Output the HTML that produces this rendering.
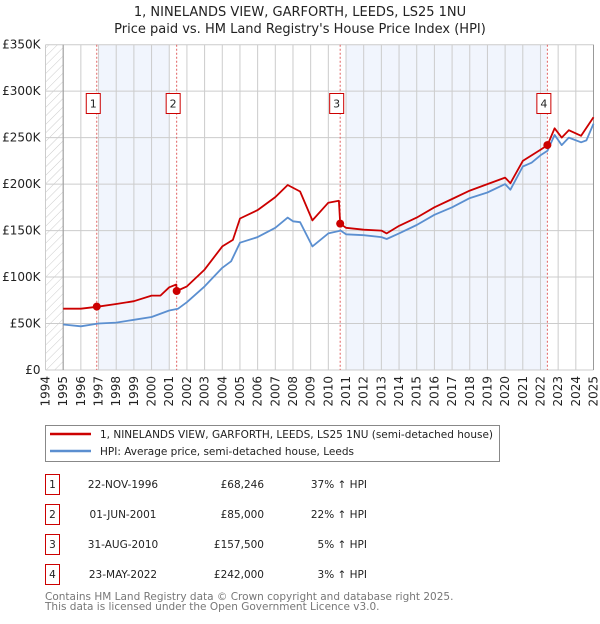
<!DOCTYPE html>
<html><head><meta charset="utf-8"><style>
body{margin:0;background:#fff;font-family:"DejaVu Sans","Liberation Sans",sans-serif;}
svg text{font-family:"DejaVu Sans","Liberation Sans",sans-serif;}
</style></head><body>
<svg id="c" width="600" height="620" xmlns="http://www.w3.org/2000/svg">
<defs><pattern id="hatch" width="6" height="6" patternUnits="userSpaceOnUse" patternTransform="rotate(45)"><line x1="0" y1="0" x2="0" y2="6" stroke="#ccc" stroke-width="1"/></pattern></defs>
<text x="300" y="16" text-anchor="middle" font-size="13" fill="#222">1, NINELANDS VIEW, GARFORTH, LEEDS, LS25 1NU</text>
<text x="300" y="33" text-anchor="middle" font-size="13" fill="#222">Price paid vs. HM Land Registry's House Price Index (HPI)</text>
<g id="plot"></g>
<g>
<rect x="45.5" y="425.5" width="454" height="36" fill="#fff" stroke="#888"/>
<line x1="50" y1="434" x2="91" y2="434" stroke="#cc0000" stroke-width="2.5"/>
<text x="100" y="438" font-size="10.5" fill="#222">1, NINELANDS VIEW, GARFORTH, LEEDS, LS25 1NU (semi-detached house)</text>
<line x1="50" y1="451" x2="91" y2="451" stroke="#5b8fd0" stroke-width="2.5"/>
<text x="100" y="455" font-size="10.5" fill="#222">HPI: Average price, semi-detached house, Leeds</text>
</g>
<g id="table"></g>
<text x="45" y="600" font-size="10.5" fill="#777">Contains HM Land Registry data © Crown copyright and database right 2025.</text>
<text x="45" y="610" font-size="10.5" fill="#777">This data is licensed under the Open Government Licence v3.0.</text>
</svg>
<script>
const hpiYears=[1995,1996,1997,1998,1999,2000,2001,2001.5,2002,2003,2004,2004.5,2005,2006,2007,2007.7,2008,2008.4,2009.1,2010,2010.7,2011,2012,2013,2013.3,2014,2015,2016,2017,2018,2019,2020,2020.3,2021,2021.5,2022,2022.4,2022.8,2023.2,2023.6,2024.3,2024.6,2025];
const hpiValues=[49,47,50,51,54,57,64,66,73,90,110,117,137,143,153,164,160,159,133,147,150,146,145,143,141,147,156,167,175,185,191,200,194,219,223,231,236,253,242,250,245,247,265];
const priceYears=[1995,1996,1996.9,1998,1999,2000,2000.5,2001,2001.4,2001.42,2002,2003,2004,2004.6,2005,2006,2007,2007.7,2008.4,2009.1,2010,2010.6,2010.67,2011,2012,2013,2013.3,2014,2015,2016,2017,2018,2019,2020,2020.3,2021,2022,2022.4,2022.8,2023.2,2023.6,2024.3,2025];
const priceValues=[66,66,68,71,74,80,80,89,92,85,90,108,133,140,163,172,186,199,192,161,180,182,157.5,153,151,150,147,155,164,175,184,193,200,207,201,225,237,242,260,250,258,252,272];
const saleYears=[1996.9,2001.42,2010.67,2022.39];
const saleValues=[68.246,85,157.5,242];
const saleLabels=["1","2","3","4"];
const saleDates=["22-NOV-1996","01-JUN-2001","31-AUG-2010","23-MAY-2022"];
const salePrices=["£68,246","£85,000","£157,500","£242,000"];
const saleHpi=["37% ↑ HPI","22% ↑ HPI","5% ↑ HPI","3% ↑ HPI"];
const yTicks=[0,50,100,150,200,250,300,350];
const yTickLabels=["£0","£50K","£100K","£150K","£200K","£250K","£300K","£350K"];
const shadeBands=[[1997,2001],[2011,2022.35]];

const NS="http://www.w3.org/2000/svg";
const X0=45.5,X1=593.5,Y0=370,Y1=44.7;
const xs=y=>X0+(y-1994)/31*(X1-X0);
const ys=v=>Y0-v/350*(Y0-Y1);
const plot=document.getElementById('plot');
function mk(t,a,p){const e=document.createElementNS(NS,t);for(const k in a)e.setAttribute(k,a[k]);(p||plot).appendChild(e);return e;}
let e;
e=mk('rect',{x:X0,y:Y1,width:X1-X0,height:Y0-Y1,fill:'#fff'});


shadeBands.forEach(b=>{e=mk('rect',{x:xs(b[0]),y:Y1,width:xs(b[1])-xs(b[0]),height:Y0-Y1,fill:'#eef3fc',opacity:0.8});

});
e=mk('rect',{x:X0,y:Y1,width:xs(1995)-X0,height:Y0-Y1,fill:'url(#hatch)'});


for(let y=1994;y<=2025;y++){e=mk('line',{x1:xs(y),x2:xs(y),y1:Y1,y2:Y0,stroke:'#ccc','stroke-width':1});


e=mk('text',{x:0,y:0,'font-size':12,fill:'#222','text-anchor':'end',transform:`translate(${xs(y)+4},${Y0+6}) rotate(-90)`});e.textContent=y;

}
yTicks.forEach((v,i)=>{e=mk('line',{x1:X0,x2:X1,y1:ys(v),y2:ys(v),stroke:'#ccc','stroke-width':1});


e=mk('text',{x:X0-5,y:ys(v)+4,'font-size':12,fill:'#222','text-anchor':'end'});e.textContent=yTickLabels[i];

});
e=mk('line',{x1:xs(1995),x2:xs(1995),y1:Y1,y2:Y0,stroke:'#999'});


e=mk('line',{x1:X1,x2:X1,y1:Y1,y2:Y0,stroke:'#999'});


saleYears.forEach(y=>{e=mk('line',{x1:xs(y),x2:xs(y),y1:Y1,y2:Y0,stroke:'#e06060','stroke-dasharray':'2,2','stroke-width':1});

});
function path(xa,va,col,name){const d=xa.map((x,i)=>(i?'L':'M')+xs(x).toFixed(1)+','+ys(va[i]).toFixed(1)).join('');
e=mk('path',{d:d,fill:'none',stroke:col,'stroke-width':1.8,'stroke-linejoin':'round'});

}
path(hpiYears,hpiValues,'#5b8fd0','hpi-line');
path(priceYears,priceValues,'#cc0000','price-paid-line');
saleYears.forEach((y,i)=>{e=mk('circle',{cx:xs(y),cy:ys(saleValues[i]),r:4,fill:'#cc0000'});


const bx=xs(y)-10.5;
e=mk('rect',{x:bx,y:93.5,width:14,height:20,fill:'#fff',stroke:'#cc0000'});


e=mk('text',{x:bx+7,y:107.5,'font-size':11,fill:'#222','text-anchor':'middle'});e.textContent=saleLabels[i];

});
const tb=document.getElementById('table');
saleLabels.forEach((l,i)=>{const cy=483+i*30;
e=mk('rect',{x:45.5,y:cy-8.5,width:14,height:20,fill:'#fff',stroke:'#cc0000'},tb);


e=mk('text',{x:52.5,y:cy+5,'font-size':10.5,fill:'#222','text-anchor':'middle'},tb);e.textContent=l;


e=mk('text',{x:123,y:cy+5,'font-size':10.5,fill:'#222','text-anchor':'middle'},tb);e.textContent=saleDates[i];


e=mk('text',{x:264,y:cy+5,'font-size':10.5,fill:'#222','text-anchor':'end'},tb);e.textContent=salePrices[i];


e=mk('text',{x:367,y:cy+5,'font-size':10.5,fill:'#222','text-anchor':'end'},tb);e.textContent=saleHpi[i];

});
</script>
</body></html>
